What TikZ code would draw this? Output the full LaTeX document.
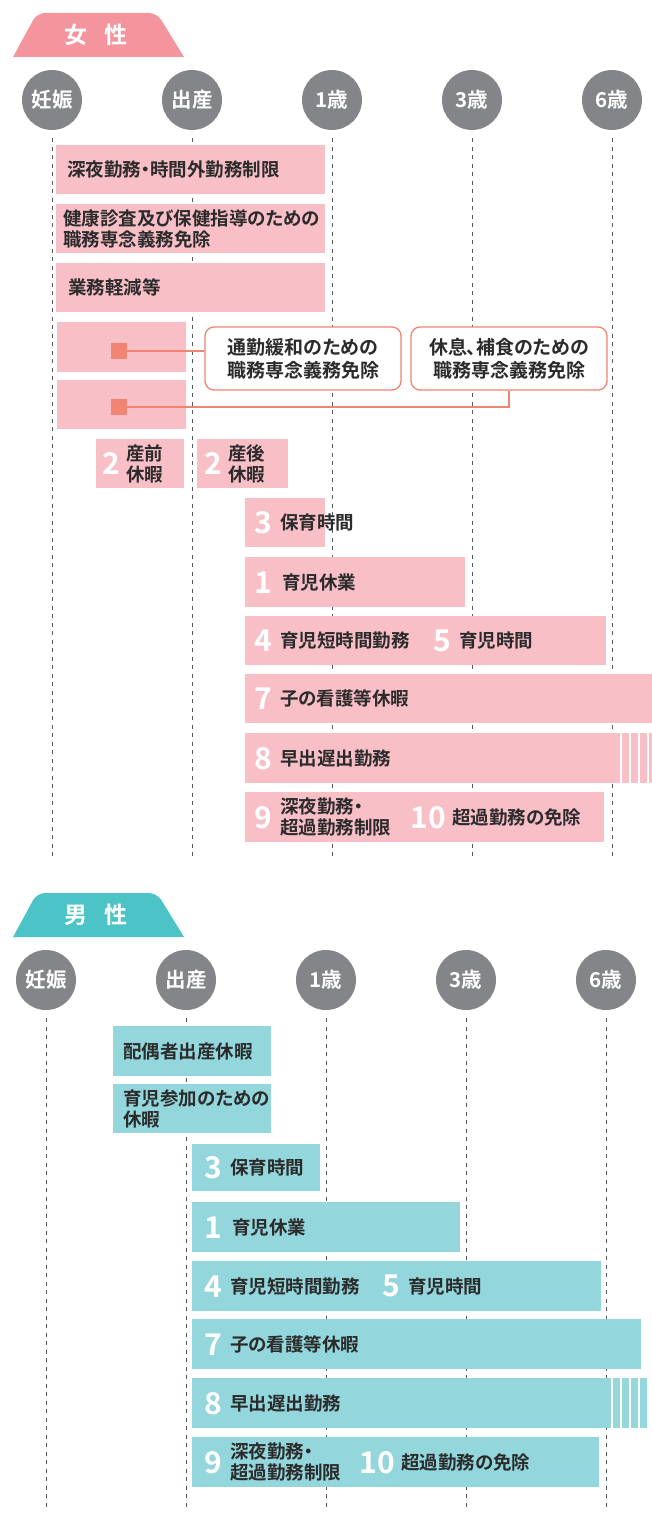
\documentclass[tikz,border=0pt]{standalone}
\usepackage{fontspec}
\setmainfont{Noto Sans CJK JP}[BoldFont={Noto Sans CJK JP Bold}, RawFeature=+palt]
\usepackage{xcolor}
\usetikzlibrary{positioning}
\definecolor{femalePink}{HTML}{F4959D}
\definecolor{femaleBarPink}{HTML}{F8BFC7}
\definecolor{maleTeal}{HTML}{4CC3C7}
\definecolor{maleBarTeal}{HTML}{93D6DB}
\definecolor{stageGray}{HTML}{848589}
\definecolor{calloutRed}{HTML}{F28473}
\definecolor{textDark}{HTML}{2B2B2B}
\tikzset{%
  stage/.style={circle, fill=stageGray, minimum size=60pt, inner sep=0pt, text=white, font=\bfseries\fontsize{20.5}{20.5}\selectfont},
  header/.style={text=white, inner sep=0pt, font=\bfseries\fontsize{23}{23}\selectfont},
  timeline/.style={draw=black!65, line width=1pt, dash pattern=on 4pt off 4.5pt},
  % ---
  % bars
  % ---
  femaleBar/.style={rectangle, fill=femaleBarPink, inner sep=0pt, anchor=north west},
  maleBar/.style={rectangle, fill=maleBarTeal, inner sep=0pt, anchor=north west},
  item/.style={text=textDark, inner sep=0pt, anchor=west, align=left, font=\bfseries\fontsize{18.5}{21}\selectfont},
  num/.style={text=white, inner sep=0pt, font=\bfseries\fontsize{30}{30}\selectfont},
  % ---
  % callouts
  % ---
  callout/.style={rectangle, rounded corners=9pt, draw=calloutRed, line width=1.3pt, fill=white, minimum width=196pt, minimum height=63pt, inner sep=0pt, align=center, text=textDark, font=\bfseries\fontsize{19}{23}\selectfont},
  marker/.style={rectangle, fill=calloutRed, minimum size=16pt, inner sep=0pt},
  calloutLine/.style={draw=calloutRed, line width=1.3pt}}
\begin{document}
\begin{tikzpicture}[x=1pt, y=-1pt]
    \useasboundingbox (0,0) rectangle (652,1528);

    % ------
    % female
    % ------
    \fill[femalePink] (13,57) [rounded corners=8pt] -- (37,13) -- (157,13) [sharp corners] -- (184,57) -- cycle;
    \node[header] (fTitle) at (96,35) {女\hspace{18pt}性};

    %Stages
    \node[stage] (fPreg) at (52,100) {妊娠};
    \node[stage] (fBirth) at (192,100) {出産};
    \node[stage] (fOne) at (332,100) {1歳};
    \node[stage] (fThree) at (472,100) {3歳};
    \node[stage] (fSix) at (612,100) {6歳};
    \coordinate (fEnd) at (0,860);

    %Lines
    \draw[timeline] ([yshift=-8pt]fPreg.south) -- (fPreg |- fEnd);
    \draw[timeline] ([yshift=-8pt]fBirth.south) -- (fBirth |- fEnd);
    \draw[timeline] ([yshift=-8pt]fOne.south) -- (fOne |- fEnd);
    \draw[timeline] ([yshift=-8pt]fThree.south) -- (fThree |- fEnd);
    \draw[timeline] ([yshift=-8pt]fSix.south) -- (fSix |- fEnd);

    %Bars
    \node[femaleBar, minimum width=269pt, minimum height=49pt] (fNight) at (56,145) {};
    \node[item] (fNightText) at ([xshift=11pt]fNight.west) {深夜勤務・時間外勤務制限};
    \node[femaleBar, minimum width=269pt, minimum height=49pt] (fCheck) at (56,204) {};
    \node[item] (fCheckText) at ([xshift=7pt]fCheck.west) {健康診査及び保健指導のための\\職務専念義務免除};
    \node[femaleBar, minimum width=269pt, minimum height=49pt] (fLight) at (56,263) {};
    \node[item] (fLightText) at ([xshift=12pt]fLight.west) {業務軽減等};
    \node[femaleBar, minimum width=129pt, minimum height=50pt] (fCommute) at (57,322) {};
    \node[femaleBar, minimum width=129pt, minimum height=49pt] (fBreak) at (57,380) {};
    \node[femaleBar, minimum width=88pt, minimum height=49pt] (fPre) at (96,439) {};
    \node[num] (fPreNo) at ([xshift=15pt]fPre.west) {2};
    \node[item, right=6pt of fPreNo] (fPreText) {産前\\休暇};
    \node[femaleBar, minimum width=91pt, minimum height=49pt] (fPost) at (197,439) {};
    \node[num] (fPostNo) at ([xshift=16pt]fPost.west) {2};
    \node[item, right=6pt of fPostNo] (fPostText) {産後\\休暇};
    \node[femaleBar, minimum width=80pt, minimum height=49pt] (fNurse) at (245,498) {};
    \node[num] (fNurseNo) at ([xshift=18pt]fNurse.west) {3};
    \node[item, right=8pt of fNurseNo] (fNurseText) {保育時間};
    \node[femaleBar, minimum width=220pt, minimum height=50pt] (fLeave) at (245,557) {};
    \node[num] (fLeaveNo) at ([xshift=18pt]fLeave.west) {1};
    \node[item, right=10pt of fLeaveNo] (fLeaveText) {育児休業};
    \node[femaleBar, minimum width=361pt, minimum height=49pt] (fShort) at (245,616) {};
    \node[num] (fShortNo) at ([xshift=18pt]fShort.west) {4};
    \node[item, right=8pt of fShortNo] (fShortText) {育児短時間勤務};
    \node[num] (fCareNo) at ([xshift=197pt]fShort.west) {5};
    \node[item, right=8pt of fCareNo] (fCareText) {育児時間};
    \node[femaleBar, minimum width=407pt, minimum height=49pt] (fSick) at (245,674) {};
    \node[num] (fSickNo) at ([xshift=18pt]fSick.west) {7};
    \node[item, right=8pt of fSickNo] (fSickText) {子の看護等休暇};
    \node[femaleBar, minimum width=375pt, minimum height=50pt] (fShift) at (245,733) {};
    \node[num] (fShiftNo) at ([xshift=18pt]fShift.west) {8};
    \node[item, right=8pt of fShiftNo] (fShiftText) {早出遅出勤務};
    \foreach \sx in {622,631,640,649}
        \fill[femaleBarPink] (\sx,733) rectangle ++(6.5,50);
    \node[femaleBar, minimum width=359pt, minimum height=50pt] (fOver) at (245,792) {};
    \node[num] (fOverNo) at ([xshift=18pt]fOver.west) {9};
    \node[item, right=8pt of fOverNo] (fOverText) {深夜勤務・\\超過勤務制限};
    \node[num] (fExemptNo) at ([xshift=183pt]fOver.west) {10};
    \node[item, right=6pt of fExemptNo] (fExemptText) {超過勤務の免除};

    %Callouts
    \node[callout] (fCommuteNote) at (303,358.5) {通勤緩和のための\\職務専念義務免除};
    \node[callout] (fBreakNote) at (509,358.5) {休息、補食のための\\職務専念義務免除};
    \node[marker] (fCommuteMark) at (119,351) {};
    \node[marker] (fBreakMark) at (119,407) {};
    \draw[calloutLine] (fCommuteMark.east) -- (fCommuteMark.east -| fCommuteNote.west);
    \draw[calloutLine] (fBreakMark.east) -| (fBreakNote.south);

    % ----
    % male
    % ----
    \fill[maleTeal] (13,937) [rounded corners=8pt] -- (37,893) -- (157,893) [sharp corners] -- (184,937) -- cycle;
    \node[header] (mTitle) at (96,915) {男\hspace{18pt}性};

    %Stages
    \node[stage] (mPreg) at (46,980) {妊娠};
    \node[stage] (mBirth) at (186,980) {出産};
    \node[stage] (mOne) at (326,980) {1歳};
    \node[stage] (mThree) at (466,980) {3歳};
    \node[stage] (mSix) at (606,980) {6歳};
    \coordinate (mEnd) at (0,1510);

    %Lines
    \draw[timeline] ([yshift=-8pt]mPreg.south) -- (mPreg |- mEnd);
    \draw[timeline] ([yshift=-8pt]mBirth.south) -- (mBirth |- mEnd);
    \draw[timeline] ([yshift=-8pt]mOne.south) -- (mOne |- mEnd);
    \draw[timeline] ([yshift=-8pt]mThree.south) -- (mThree |- mEnd);
    \draw[timeline] ([yshift=-8pt]mSix.south) -- (mSix |- mEnd);

    %Bars
    \node[maleBar, minimum width=158pt, minimum height=50pt] (mSpouse) at (113,1026) {};
    \node[item] (mSpouseText) at ([xshift=10pt]mSpouse.west) {配偶者出産休暇};
    \node[maleBar, minimum width=158pt, minimum height=49pt] (mJoin) at (113,1084) {};
    \node[item] (mJoinText) at ([xshift=10pt]mJoin.west) {育児参加のための\\休暇};
    \node[maleBar, minimum width=128pt, minimum height=47pt] (mNurse) at (192,1144) {};
    \node[num] (mNurseNo) at ([xshift=21pt]mNurse.west) {3};
    \node[item, right=8pt of mNurseNo] (mNurseText) {保育時間};
    \node[maleBar, minimum width=268pt, minimum height=50pt] (mLeave) at (192,1202) {};
    \node[num] (mLeaveNo) at ([xshift=21pt]mLeave.west) {1};
    \node[item, right=10pt of mLeaveNo] (mLeaveText) {育児休業};
    \node[maleBar, minimum width=409pt, minimum height=50pt] (mShort) at (192,1261) {};
    \node[num] (mShortNo) at ([xshift=21pt]mShort.west) {4};
    \node[item, right=8pt of mShortNo] (mShortText) {育児短時間勤務};
    \node[num] (mCareNo) at ([xshift=199pt]mShort.west) {5};
    \node[item, right=8pt of mCareNo] (mCareText) {育児時間};
    \node[maleBar, minimum width=449pt, minimum height=50pt] (mSick) at (192,1319) {};
    \node[num] (mSickNo) at ([xshift=21pt]mSick.west) {7};
    \node[item, right=8pt of mSickNo] (mSickText) {子の看護等休暇};
    \node[maleBar, minimum width=419pt, minimum height=50pt] (mShift) at (192,1378) {};
    \node[num] (mShiftNo) at ([xshift=21pt]mShift.west) {8};
    \node[item, right=8pt of mShiftNo] (mShiftText) {早出遅出勤務};
    \foreach \sx in {613,622,631,640}
        \fill[maleBarTeal] (\sx,1378) rectangle ++(6.5,50);
    \node[maleBar, minimum width=407pt, minimum height=50pt] (mOver) at (192,1437) {};
    \node[num] (mOverNo) at ([xshift=21pt]mOver.west) {9};
    \node[item, right=8pt of mOverNo] (mOverText) {深夜勤務・\\超過勤務制限};
    \node[num] (mExemptNo) at ([xshift=185pt]mOver.west) {10};
    \node[item, right=6pt of mExemptNo] (mExemptText) {超過勤務の免除};
\end{tikzpicture}
\end{document}
